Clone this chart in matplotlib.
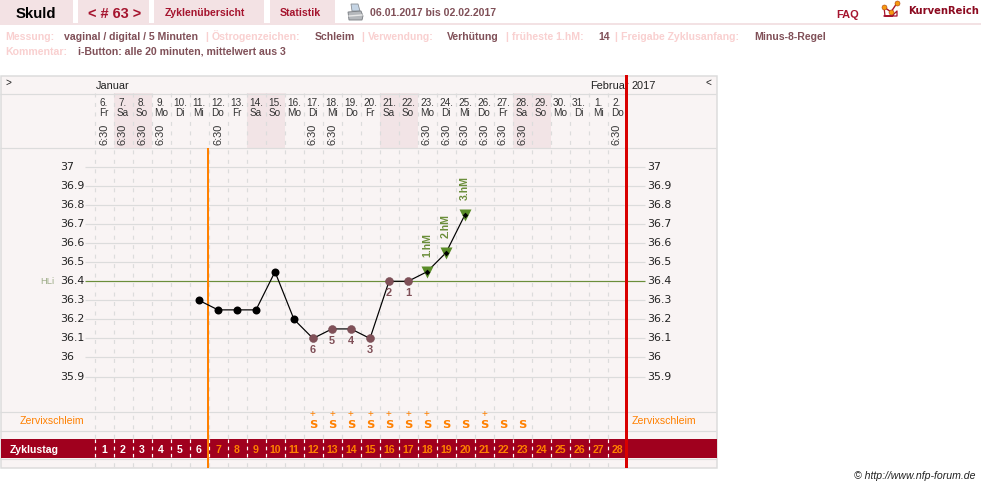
import matplotlib
matplotlib.use("Agg")
import matplotlib.pyplot as plt
from matplotlib.patches import Rectangle, Polygon
from matplotlib.transforms import blended_transform_factory

plt.rcParams["font.family"] = ["Liberation Sans", "DejaVu Sans"]

# DATA
dates = [6, 7, 8, 9, 10, 11, 12, 13, 14, 15, 16, 17, 18, 19, 20, 21, 22, 23, 24, 25, 26, 27, 28, 29, 30, 31, 1, 2]
weekdays = ["Fr", "Sa", "So", "Mo", "Di", "Mi", "Do", "Fr", "Sa", "So", "Mo", "Di", "Mi", "Do", "Fr", "Sa", "So",
            "Mo", "Di", "Mi", "Do", "Fr", "Sa", "So", "Mo", "Di", "Mi", "Do"]
measured_days = [1, 2, 3, 4, 7, 12, 13, 18, 19, 20, 21, 22, 23, 28]
measure_time = "6:30"

temp_days = [6, 7, 8, 9, 10, 11, 12, 13, 14, 15, 16, 17, 18, 19, 20]
temps = [36.3, 36.25, 36.25, 36.25, 36.45, 36.2, 36.1, 36.15, 36.15, 36.1, 36.4, 36.4, 36.45, 36.55, 36.75]
low_days = [12, 13, 14, 15, 16, 17]
low_labels = ["6", "5", "4", "3", "2", "1"]
high_days = [18, 19, 20]
high_labels = ["1.hM", "2.hM", "3.hM"]
cover_line = 36.4
temp_ticks = [37, 36.9, 36.8, 36.7, 36.6, 36.5, 36.4, 36.3, 36.2, 36.1, 36, 35.9]
temp_tick_labels = ["37", "36.9", "36.8", "36.7", "36.6", "36.5", "36.4", "36.3", "36.2", "36.1", "36", "35.9"]

mucus_days = [12, 13, 14, 15, 16, 17, 18, 19, 20, 21, 22, 23]
mucus_plus = [1, 1, 1, 1, 1, 1, 1, 0, 0, 1, 0, 0]
cycle_days = list(range(1, 29))
last_white_day = 6

info_row = [("Messung:", 5, 0), ("vaginal / digital / 5 Minuten", 64, 1), ("|", 205, 0),
            ("Östrogenzeichen:", 212, 0), ("Schleim", 315, 1), ("|", 361, 0),
            ("Verwendung:", 368, 0), ("Verhütung", 447, 1), ("|", 505, 0),
            ("früheste 1.hM:", 512, 0), ("14", 598, 1), ("|", 614, 0),
            ("Freigabe Zyklusanfang:", 621, 0), ("Minus-8-Regel", 754, 1)]

# COLOURS
PANEL = "#f9f4f4"
TAB = "#f3e2e4"
WEEKEND = "#f2e4e6"
GRID = "#dcdcdc"
WINE = "#a0001e"
DARK_RED = "#a5142e"
BROWN = "#805058"
PINK = "#f9d0d0"
ORANGE = "#ff8000"
RED = "#d90000"
GREEN = "#6b8e3a"
TRI_GREEN = "#5a8c28"


def px(n):
    return n * 0.72


def col_x(day):
    return 94.5 + 19 * (day - 0.5)


fig = plt.figure(figsize=(9.81, 4.88), dpi=100, facecolor="white")
ax = fig.add_axes([0, 0, 1, 1])
ax.set_xlim(0, 981)
ax.set_ylim(488, 0)
ax.axis("off")

# temperature axes lie over the whole figure: 19 px per cycle day, 190.5 px per degree
tx = fig.add_axes([0, 0, 1, 1], zorder=3)
tx.set_xlim(0.5 - 94.5 / 19, 0.5 + (981 - 94.5) / 19)
tx.set_ylim(36.4 + (281.3 - 488) / 190.5, 36.4 + 281.3 / 190.5)
tx.axis("off")
tick_trans = blended_transform_factory(ax.transData, tx.transData)

# top navigation
for x0, x1 in [(0, 73), (78, 149), (154, 264), (270, 335)]:
    ax.add_patch(Rectangle((x0, 0), x1 - x0, 23, fc=TAB, ec="none"))
ax.add_patch(Rectangle((0, 23), 981, 2, fc=TAB, ec="none"))
ax.text(36, 18, "Skuld", fontsize=px(15), fontweight="bold", color="black", ha="center")
ax.text(115, 18, "< # 63 >", fontsize=px(14.5), fontweight="bold", color=DARK_RED, ha="center")
ax.text(205, 16.5, "Zyklenübersicht", fontsize=px(10.5), fontweight="bold", color=DARK_RED, ha="center")
ax.text(300, 16.5, "Statistik", fontsize=px(10.5), fontweight="bold", color=DARK_RED, ha="center")
ax.text(370, 16.5, "06.01.2017 bis 02.02.2017", fontsize=px(10.5), fontweight="bold", color=BROWN)
ax.text(836, 18.5, "FAQ", fontsize=px(11), fontweight="bold", color=DARK_RED)
ax.text(908, 14, "KurvenReich", fontsize=px(10), fontweight="bold", family="DejaVu Sans", color="#8c0a20")

# printer icon
ax.add_patch(Polygon([(351, 4), (358, 4), (360, 11), (352, 11)], fc="#c5d5e5", ec="#8a8f95", lw=0.6))
ax.add_patch(Polygon([(348, 12), (361, 11), (363, 16), (362, 20), (349, 20)], fc="#b5b8bc", ec="#777b80", lw=0.6))
ax.plot([349, 362], [16, 15], color="#e8e8e8", lw=1)

# logo
ax.plot([884, 885, 892, 897, 897, 884], [7, 16, 16, 11, 16, 16], color=DARK_RED, lw=0.9)
ax.plot([884, 891, 897], [7, 12, 3], color=DARK_RED, lw=1)
ax.plot([884, 891, 897], [7, 12, 3], "o", ms=px(5), mfc="#f59a10", mec="#b04010", mew=0.4)

# info rows
for label, x, is_value in info_row:
    ax.text(x, 40, label, fontsize=px(10.5), fontweight="bold", color=BROWN if is_value else PINK)
ax.text(5, 55, "Kommentar:", fontsize=px(10.5), fontweight="bold", color=PINK)
ax.text(78, 55, "i-Button: alle 20 minuten, mittelwert aus 3", fontsize=px(10.5), fontweight="bold", color=BROWN)

# panel and row lines
ax.add_patch(Rectangle((0.5, 75.5), 716, 392.5, fc=PANEL, ec=GRID, lw=px(1.5)))
for d, wd in zip(cycle_days, weekdays):
    if wd in ("Sa", "So"):
        ax.add_patch(Rectangle((col_x(d) - 9.5, 93), 19, 55, fc=WEEKEND, ec="none"))
for y in [93.5, 147.5, 411.5, 430.5, 458.5]:
    ax.plot([0, 716], [y, y], color=GRID, lw=px(1.2), solid_capstyle="butt")

# cycle day bar
ax.add_patch(Rectangle((1, 439), 715.5, 19, fc=WINE, ec="none", zorder=2))

# day column separators
for d in cycle_days:
    x = col_x(d) - 9.5
    ax.plot([x, x], [93, 468], color=GRID, lw=px(1.2), dashes=(3.3, 4.6), zorder=1)
    ax.plot([x, x], [439, 458], color="white", lw=px(1.2), dashes=(3.0, 3.0), zorder=3)

# month row
ax.text(96, 89, "Januar", fontsize=px(11), color="#222222")
ax.text(590, 89, "Februar", fontsize=px(11), color="#222222")
ax.text(631, 89, "2017", fontsize=px(11), color="#222222")
ax.text(5, 86, ">", fontsize=px(10), color="#222222")
ax.text(706, 86, "<", fontsize=px(10), color="#222222")

# date and measuring time columns
for d, date, wd in zip(cycle_days, dates, weekdays):
    ax.text(col_x(d), 105.5, f"{date}.", fontsize=px(10), color="#333333", ha="center")
    ax.text(col_x(d), 115.5, wd, fontsize=px(10), color="#333333", ha="center")
for d in measured_days:
    ax.text(col_x(d), 134.5, measure_time, fontsize=px(11), color="#333333", ha="center", va="center", rotation=90)

# temperature grid and labels on both sides
for t, label in zip(temp_ticks, temp_tick_labels):
    line_color = GREEN if t == cover_line else GRID
    tx.plot([85, 645], [t, t], transform=tick_trans, color=line_color, lw=px(1.2), zorder=1, solid_capstyle="butt")
    tx.text(60, t, label, transform=tick_trans, fontsize=px(11), family="DejaVu Sans", color="#222222", va="center")
    tx.text(647, t, label, transform=tick_trans, fontsize=px(11), family="DejaVu Sans", color="#222222", va="center")
tx.text(40, cover_line, "HLi", transform=tick_trans, fontsize=px(9.5), color="#9fae8a", va="center")

# cycle boundaries
tx.add_patch(Rectangle((207, 148), 2, 320, transform=ax.transData, fc=ORANGE, ec="none", zorder=1.5))
tx.add_patch(Rectangle((625, 75), 3, 393, transform=ax.transData, fc=RED, ec="none", zorder=1.5))

# temperature curve
tx.plot(temp_days, temps, color="black", lw=px(1.2), zorder=2)
for d, t in zip(temp_days, temps):
    if d in high_days:
        i = high_days.index(d)
        tx.plot(d, t, "v", ms=px(12), mfc=TRI_GREEN, mec="none", zorder=3)
        tx.plot(d, t, "D", ms=px(4), mfc="black", mec="none", zorder=4)
        tx.annotate(high_labels[i], (d, t), xytext=(0, px(26.5)), textcoords="offset points", rotation=90,
                    fontsize=px(10.5), fontweight="bold", color=GREEN, ha="center", va="center")
    elif d in low_days:
        i = low_days.index(d)
        tx.plot(d, t, "o", ms=px(8), mfc=BROWN, mec="#6a4048", mew=0.3, zorder=3)
        tx.annotate(low_labels[i], (d, t), xytext=(0, -px(12)), textcoords="offset points",
                    fontsize=px(11), fontweight="bold", color=BROWN, ha="center", va="center")
    else:
        tx.plot(d, t, "o", ms=px(8), mfc="black", mec="none", zorder=3)

# cervical mucus row
ax.text(20, 424, "Zervixschleim", fontsize=px(10.5), color=ORANGE)
ax.text(632, 424, "Zervixschleim", fontsize=px(10.5), color=ORANGE)
for d, plus in zip(mucus_days, mucus_plus):
    ax.text(col_x(d), 428, "S", fontsize=px(11.5), fontweight="bold", family="DejaVu Sans", color=ORANGE, ha="center")
    if plus:
        ax.text(col_x(d), 417.5, "+", fontsize=px(10), color=ORANGE, ha="center")

# cycle day row
ax.text(10, 453, "Zyklustag", fontsize=px(10.5), fontweight="bold", color="white", zorder=4)
for d in cycle_days:
    ax.text(col_x(d), 453, str(d), fontsize=px(10.5), fontweight="bold",
            color="white" if d <= last_white_day else ORANGE, ha="center", zorder=4)

ax.text(976, 479, "© http://www.nfp-forum.de", fontsize=px(10.5), style="italic", color="#222222", ha="right")

fig.savefig("out.png", dpi=100, facecolor="white")
